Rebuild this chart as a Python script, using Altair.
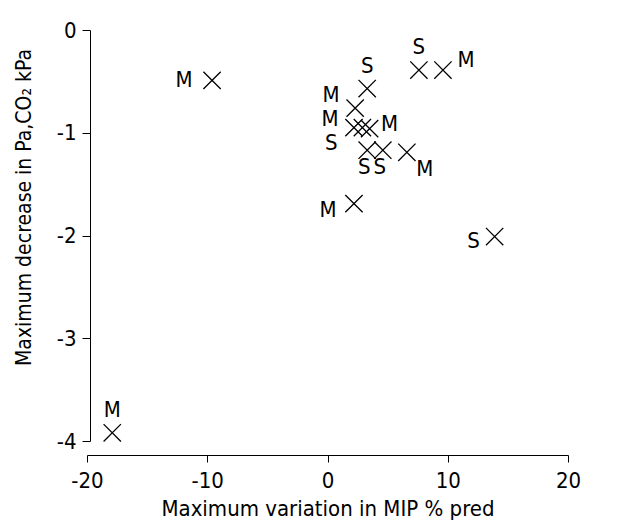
import altair as alt
import pandas as pd

# data
mip_var = [-17.9, -9.6, 3.3, 7.6, 9.6, 2.3, 2.2, 2.9, 3.5, 3.3, 4.6, 6.6, 2.2, 13.9]
pco2_dec = [-3.92, -0.49, -0.57, -0.39, -0.39, -0.76, -0.95, -0.95, -0.96, -1.17, -1.17, -1.19, -1.69, -2.01]
group = ["M", "M", "S", "S", "M", "M", "M", "S", "M", "S", "S", "M", "M", "S"]
label_side = ["above", "left", "above", "above", "upper-right", "upper-left-high", "upper-left",
              "lower-left", "right", "below", "below", "lower-right", "left-low", "left-tight"]

x_ticks = [-20, -10, 0, 10, 20]
y_ticks = [-4, -3, -2, -1, 0]

df = pd.DataFrame({"x": mip_var, "y": pco2_dec, "g": group, "side": label_side})

FONT = "DejaVu Sans Condensed, Liberation Sans"
FS = 22

offsets = {
    "above": (0, -23),
    "left": (-28, 0),
    "upper-left-high": (-24, -13),
    "upper-left": (-24, -9),
    "lower-left": (-31, 15),
    "right": (20, -5),
    "upper-right": (23, -10),
    "below": (-3, 17),
    "lower-right": (18, 17),
    "left-low": (-26, 6),
    "left-tight": (-21, 4),
}

xs = alt.X("x:Q", scale=alt.Scale(domain=[-20, 20], nice=False, zero=False),
           axis=alt.Axis(values=x_ticks, title="Maximum variation in MIP  % pred", grid=False,
                         offset=14, tickSize=7, labelPadding=8, titlePadding=7,
                         domainColor="black", tickColor="black", labelColor="black",
                         titleColor="black", labelFontSize=FS, titleFontSize=FS,
                         titleFontWeight="normal", labelFont=FONT, titleFont=FONT,
                         labelExpr="datum.value + ''", labelFlush=False))
ys = alt.Y("y:Q", scale=alt.Scale(domain=[-4, 0], nice=False, zero=False),
           axis=alt.Axis(values=y_ticks, title="Maximum decrease in Pa,CO₂  kPa", grid=False,
                         offset=-3, tickSize=8, labelPadding=6,
                         domainColor="black", tickColor="black", labelColor="black",
                         titleColor="black", labelFontSize=FS, titleFontSize=21,
                         titleFontWeight="normal", labelFont=FONT, titleFont=FONT,
                         titleX=-66, titleY=177, titleAngle=270, titleBaseline="middle",
                         titleAlign="center", labelExpr="datum.value + ''", labelFlush=False))

base = alt.Chart(df)

points = base.mark_point(
    shape="M -1 -1 L 1 1 M -1 1 L 1 -1", filled=False, color="black",
    strokeWidth=1.3, size=300, opacity=1
).encode(x=xs, y=ys)

layers = [points]
for side, (dx, dy) in offsets.items():
    layers.append(
        base.transform_filter(alt.datum.side == side).mark_text(
            dx=dx, dy=dy, fontSize=FS, font=FONT, color="black",
            align="center", baseline="middle"
        ).encode(x=xs, y=ys, text="g:N")
    )

chart = alt.layer(*layers).properties(
    width=481, height=411,
    background="white",
    autosize=alt.AutoSizeParams(type="none"),
    padding={"left": 79, "top": 22, "right": 53, "bottom": 79},
).configure_view(stroke=None)

chart.save("out.html", embed_options={"renderer": "svg", "actions": False})
